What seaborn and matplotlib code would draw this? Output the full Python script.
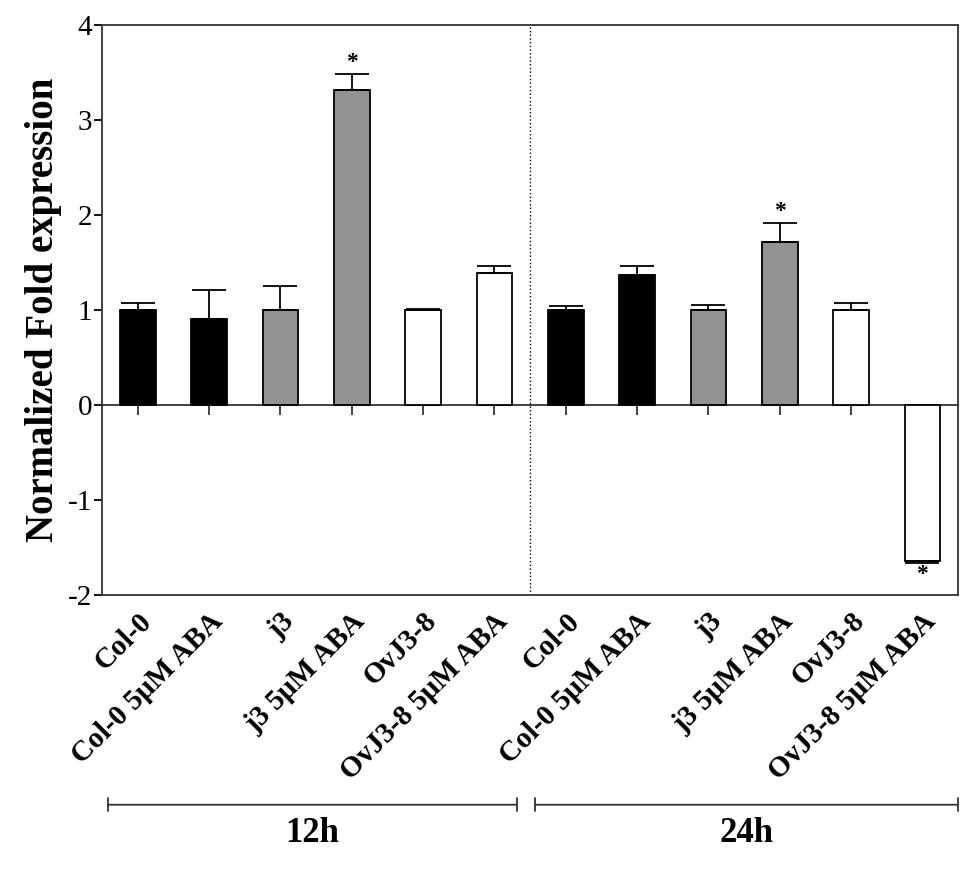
import numpy as np
import pandas as pd
import matplotlib
matplotlib.use("Agg")
import matplotlib.pyplot as plt
import matplotlib.transforms as mtransforms
import seaborn as sns

# data
timepoints = ["12h", "24h"]
lines = ["Col-0", "Col-0 5μM ABA", "j3", "j3 5μM ABA", "OvJ3-8", "OvJ3-8 5μM ABA"]
fold_12h = [1.00, 0.90, 1.00, 3.31, 1.00, 1.39]
err_12h = [0.07, 0.31, 0.25, 0.17, 0.005, 0.07]
fold_24h = [1.00, 1.37, 1.00, 1.71, 1.00, -1.64]
err_24h = [0.04, 0.09, 0.05, 0.21, 0.07, 0.02]
signif_12h = [False, False, False, True, False, False]
signif_24h = [False, False, False, True, False, True]
bar_colors = ["black", "black", "#929292", "#929292", "white", "white"]

df = pd.DataFrame({
    "time": np.repeat(timepoints, len(lines)),
    "line": lines * 2,
    "fold": fold_12h + fold_24h,
    "err": err_12h + err_24h,
    "sig": signif_12h + signif_24h,
})
df["cond"] = df["time"] + " " + df["line"]

sns.set_style("ticks")
plt.rcParams["font.family"] = ["Liberation Serif", "DejaVu Serif"]
plt.rcParams["axes.unicode_minus"] = False
plt.rcParams["text.color"] = "black"
plt.rcParams["axes.labelcolor"] = "black"
plt.rcParams["xtick.color"] = "black"
plt.rcParams["ytick.color"] = "black"

fig = plt.figure(figsize=(9.7, 8.72), dpi=100)
ax = fig.add_axes([0.1052, 0.3177, 0.8825, 0.6537])

sns.barplot(data=df, x="cond", y="fold", hue="cond", palette=bar_colors * 2,
            edgecolor="black", linewidth=1.3, width=0.5, legend=False, ax=ax)

pos = np.arange(len(df))
vals = df["fold"].to_numpy()
errs = df["err"].to_numpy()
lower = np.where(vals < 0, errs, 0)
upper = np.where(vals >= 0, errs, 0)
ax.errorbar(pos, vals, yerr=[lower, upper], fmt="none", ecolor="black",
            elinewidth=1.3, capsize=12, capthick=1.3)

# significance stars
for p, v, e, s in zip(pos, vals, errs, df["sig"]):
    if s:
        if v >= 0:
            ax.text(p, v + e + 0.01, "*", ha="center", va="bottom", fontsize=17, fontweight="bold")
        else:
            ax.text(p, v - e - 0.01, "*", ha="center", va="top", fontsize=17, fontweight="bold")

ymin, ymax = -2, 4
ax.set_ylim(ymin, ymax)
ax.set_xlim(-0.5, len(df) - 0.5)
ax.set_yticks(range(ymin, ymax + 1))
ax.tick_params(axis="y", labelsize=21, length=6, width=1.3, direction="out", pad=1)
ax.set_ylabel("Normalized Fold expression", fontsize=28, fontweight="bold", labelpad=4)
ax.set_xlabel("")

# category labels at the bottom frame, tick marks at the zero line
ax.set_xticks(pos)
ax.set_xticklabels(df["line"], rotation=45, ha="right", rotation_mode="anchor",
                   fontsize=21, fontweight="bold")
ax.tick_params(axis="x", length=0, pad=9)
for sp in ax.spines.values():
    sp.set_visible(True)
    sp.set_linewidth(1.3)
    sp.set_color("#333333")

secax = ax.secondary_xaxis((0 - ymin) / (ymax - ymin))
secax.set_xticks(pos)
secax.set_xticklabels([])
secax.xaxis.set_ticks_position("bottom")
secax.tick_params(direction="out", length=7, width=1.3, color="#333333")
for side in ["bottom", "top"]:
    secax.spines[side].set_linewidth(1.3)
    secax.spines[side].set_color("#333333")

# divider between time points
ax.axvline(len(lines) - 0.5, color="black", linestyle=":", linewidth=1.0)

# time point brackets
trans = mtransforms.blended_transform_factory(ax.transData, ax.transAxes)
for i, t in enumerate(timepoints):
    x0 = i * len(lines) - 0.5 + (0.08 if i == 0 else 0.07)
    x1 = (i + 1) * len(lines) - 0.5 - (0.19 if i == 0 else 0.0)
    ax.annotate("", xy=(x0, -0.368), xytext=(x1, -0.368), xycoords=trans, textcoords=trans,
                arrowprops=dict(arrowstyle="|-|, widthA=0.45, widthB=0.45", color="#333333",
                                linewidth=1.3, shrinkA=0, shrinkB=0),
                annotation_clip=False)
    ax.text((x0 + x1) / 2, -0.418, t, transform=trans, ha="center", va="center",
            fontsize=25, fontweight="bold")

fig.savefig("out.png", dpi=100)
